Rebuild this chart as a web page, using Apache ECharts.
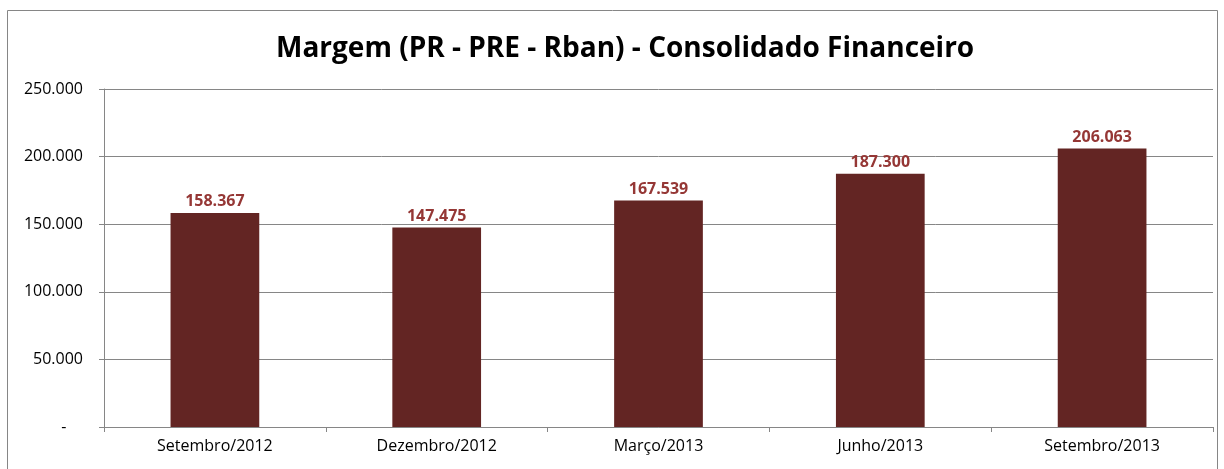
<!DOCTYPE html>
<html>
<head>
<meta charset="utf-8">
<script src="https://cdn.jsdelivr.net/npm/echarts@6/dist/echarts.min.js"></script>
<style>
  html, body { margin: 0; padding: 0; background: #fff; }
  #chart { width: 1224px; height: 469px; }
</style>
</head>
<body>
<div id="chart"></div>
<script>
// categorias e valores
var categorias = ['Setembro/2012', 'Dezembro/2012', 'Março/2013', 'Junho/2013', 'Setembro/2013'];
var margem = [158367, 147475, 167539, 187300, 206063];
var eixoY = { min: 0, max: 250000, interval: 50000 };

function fmt(v) {
    if (v === 0) return '-    ';
    return String(Math.round(v)).replace(/\B(?=(\d{3})+(?!\d))/g, '.');
}

var chart = echarts.init(document.getElementById('chart'));
var fonte = 'Open Sans';
var option = {
    animation: false,
    backgroundColor: '#fff',
    title: {
        text: 'Margem (PR - PRE - Rban) - Consolidado Financeiro',
        left: 271,
        top: 30,
        textStyle: { fontFamily: fonte, fontSize: 28, fontWeight: 'bold', color: '#000' }
    },
    graphic: [{
        type: 'rect',
        shape: { x: 7.5, y: 10.5, width: 1210, height: 470 },
        style: { fill: 'none', stroke: '#868686', lineWidth: 1 },
        silent: true
    }],
    grid: { left: 104, right: 11, top: 89, bottom: 42 },
    xAxis: {
        type: 'category',
        data: categorias,
        axisLine: { lineStyle: { color: '#868686' } },
        axisTick: { show: true, length: 5, lineStyle: { color: '#868686' } },
        axisLabel: { color: '#000', fontFamily: fonte, fontSize: 16, margin: 11 }
    },
    yAxis: {
        type: 'value',
        min: eixoY.min,
        max: eixoY.max,
        interval: eixoY.interval,
        axisLine: { show: true, lineStyle: { color: '#868686' } },
        axisTick: { show: true, length: 5, lineStyle: { color: '#868686' } },
        splitLine: { lineStyle: { color: '#868686' } },
        axisLabel: { color: '#000', fontFamily: fonte, fontSize: 16, margin: 21, formatter: fmt }
    },
    series: [{
        type: 'bar',
        data: margem,
        barWidth: '40%',
        itemStyle: { color: '#632523' },
        label: {
            show: true,
            position: 'top',
            distance: 3,
            color: '#953735',
            fontFamily: fonte,
            fontSize: 16,
            fontWeight: 'bold',
            formatter: function (p) { return fmt(p.value); }
        }
    }]
};
chart.setOption(option);
</script>
</body>
</html>
